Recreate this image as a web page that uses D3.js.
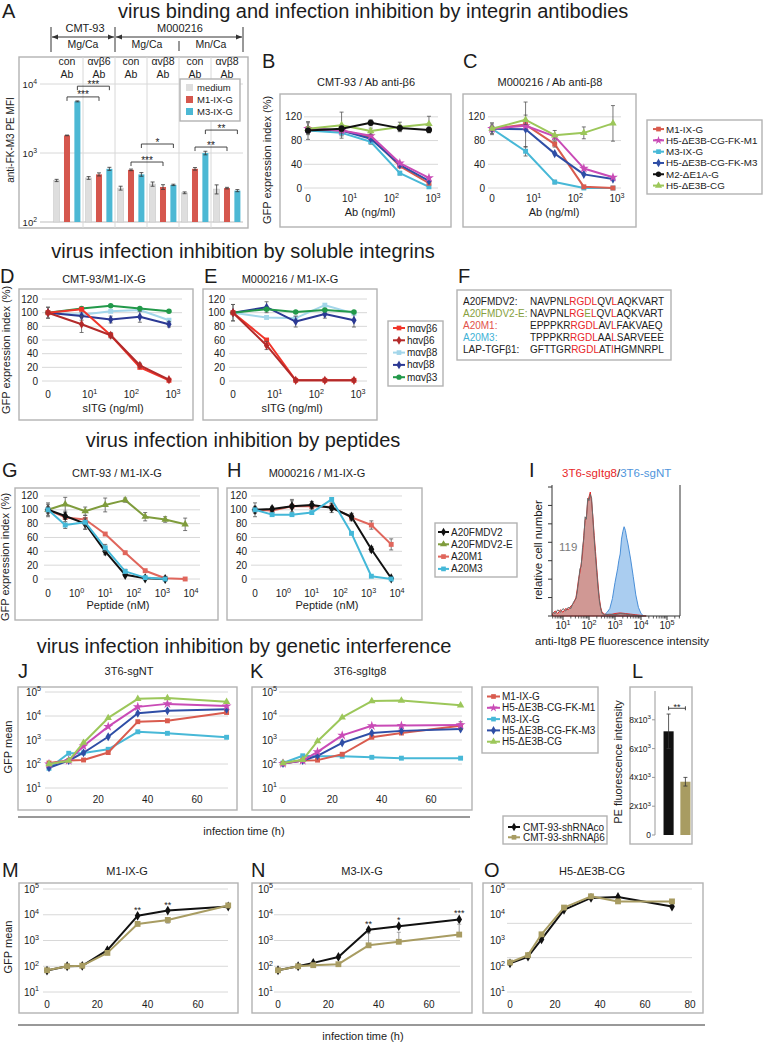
<!DOCTYPE html>
<html>
<head>
<meta charset="utf-8">
<script src="https://cdn.jsdelivr.net/npm/d3@7"></script>
<style>
html,body{margin:0;padding:0;background:#fff;}
svg{display:block;font-family:"Liberation Sans",Arial,Helvetica,sans-serif;}
</style>
</head>
<body>
<svg id="fig" width="763" height="1044"></svg>
<script>
// ================= DATA =================
// Panel A
const aGroups = ["CMT-93 con Ab", "CMT-93 αvβ6 Ab", "Mg/Ca con Ab", "Mg/Ca αvβ8 Ab", "Mn/Ca con Ab", "Mn/Ca αvβ8 Ab"];
const aColTop = ["con", "αvβ6", "con", "αvβ8", "con", "αvβ8"];
const aSeries = ["medium", "M1-IX-G", "M3-IX-G"];
const aMedium = [400, 435, 310, 355, 265, 300];
const aM1 = [1800, 490, 570, 322, 590, 310];
const aM3 = [5600, 590, 490, 345, 1000, 285];
const aMediumErr = [15, 20, 20, 25, 8, 45];
const aM1Err = [20, 25, 15, 25, 25, 8];
const aM3Err = [90, 30, 30, 8, 60, 10];
const aYTicks = ["10^2", "10^3", "10^4"];
const aSigPairs = [[0, 1, 2, "***"], [0, 1, 1, "***"], [2, 3, 2, "*"], [2, 3, 1, "***"], [4, 5, 2, "**"], [4, 5, 1, "**"]];
const aSigLevel = [9300, 6500, 1350, 740, 2150, 1220];

// Panels B, C
const abConc = [0, 6.4, 32, 160, 800];
const abXTicks = ["0", "10^1", "10^2", "10^3"];
const pctTicks4 = [0, 40, 80, 120];
const virusNames = ["M1-IX-G", "H5-ΔE3B-CG-FK-M1", "M3-IX-G", "H5-ΔE3B-CG-FK-M3", "M2-ΔE1A-G", "H5-ΔE3B-CG"];
const bM1 = [100, 97, 86, 37, 8];
const bFKM1 = [100, 97, 88, 42, 17];
const bM3 = [97, 93, 78, 25, 2];
const bFKM3 = [100, 97, 83, 39, 12];
const bM2 = [97, 100, 110, 101, 98];
const bH5 = [100, 106, 96, 103, 108];
const bM2Err = [15, 5, 5, 5, 5];
const bH5Err = [10, 22, 5, 8, 13];
const bM3Err = [5, 5, 4, 3, 2];
const cM1 = [100, 107, 74, 2, 0];
const cFKM1 = [100, 105, 87, 33, 18];
const cM3 = [100, 62, 10, 0, 0];
const cFKM3 = [100, 99, 58, 23, 15];
const cH5 = [100, 115, 89, 93, 109];
const cM1Err = [8, 38, 5, 2, 0];
const cH5Err = [10, 8, 8, 10, 30];
const cM3Err = [5, 8, 3, 0, 0];

// Panels D, E
const sitgConc = [0, 6.4, 32, 160, 800];
const pctTicks6 = [0, 20, 40, 60, 80, 100, 120];
const sitgNames = ["mαvβ6", "hαvβ6", "mαvβ8", "hαvβ8", "mαvβ3"];
const dMB6 = [100, 105, 67, 20, 1];
const dHB6 = [100, 83, 67, 23, 2];
const dMB8 = [100, 97, 102, 104, 89];
const dHB8 = [100, 95, 90, 94, 83];
const dMB3 = [100, 106, 110, 106, 102];
const dHB6Err = [8, 12, 4, 3, 1];
const dHB8Err = [8, 6, 5, 8, 4];
const eMB6 = [100, 60, 1, 1, 1];
const eHB6 = [100, 52, 1, 1, 1];
const eMB8 = [100, 93, 92, 111, 99];
const eHB8 = [100, 108, 87, 98, 89];
const eMB3 = [100, 105, 101, 104, 101];
const eHB6Err = [12, 6, 1, 1, 1];
const eHB8Err = [12, 8, 8, 6, 10];

// Panel F
const fNames = ["A20FMDV2:", "A20FMDV2-E:", "A20M1:", "A20M3:", "LAP-TGFβ1:"];
const fSeqs = ["NAVPNLRGDLQVLAQKVART", "NAVPNLRGELQVLAQKVART", "EPPPKRRGDLAVLFAKVAEQ", "TPPPKRRGDLAALSARVEEE", "GFTTGRRGDLATIHGMNRPL"];
const fRedPos = [6, 7, 8, 9, 12];

// Panels G, H
const pepConc = [0, 0.4, 2, 10, 50, 250, 1250, 6250];
const pepXTicks = ["0", "10^0", "10^1", "10^2", "10^3", "10^4"];
const pepNames = ["A20FMDV2", "A20FMDV2-E", "A20M1", "A20M3"];
const gFMDV2 = [100, 91, 80, 40, 6, 1, 0, null];
const gFMDV2E = [100, 108, 98, 107, 114, 90, 86, 79];
const gM1 = [100, 89, 86, 65, 38, 12, 1, 0];
const gM3 = [100, 78, 82, 45, 11, 2, 0, null];
const gFMDV2Err = [10, 5, 8, 5, 2, 1, 0, 0];
const gFMDV2EErr = [8, 10, 6, 10, 3, 6, 4, 9];
const gM3Err = [5, 5, 10, 5, 3, 1, 0, 0];
const hFMDV2 = [100, 101, 105, 107, 103, 90, 43, 1];
const hM1 = [100, 99, 105, 105, 104, 89, 78, 50];
const hM3 = [100, 93, 93, 96, 115, 66, 4, 0];
const hFMDV2Err = [10, 4, 8, 5, 7, 5, 4, 1];
const hM1Err = [5, 4, 10, 4, 5, 5, 6, 8];

// Panel I (histograms, log10 intensity vs relative count)
const iXTicks = ["10^1", "10^2", "10^3", "10^4", "10^5"];
const iLogItg8 = [0.6, 0.7, 0.8, 0.9, 1.0, 1.1, 1.2, 1.3, 1.4, 1.5, 1.55, 1.6, 1.65, 1.7, 1.75, 1.8, 1.85, 1.9, 1.95, 2.0, 2.05, 2.1, 2.15, 2.2, 2.25, 2.3, 2.35, 2.4, 2.45, 2.5, 2.6, 2.8, 3.0, 3.2, 3.4, 3.6, 3.8, 4.0, 4.2];
const iItg8 = [2, 4, 2, 5, 3, 6, 5, 8, 10, 15, 22, 30, 35, 42, 50, 65, 77, 80, 92, 96, 100, 92, 80, 65, 52, 38, 25, 14, 7, 3, 1.5, 1, 2, 2.5, 2, 1.5, 1, 0.5, 0];
const iItg8Rep = [3, 2, 5, 3, 6, 4, 7, 6, 11, 14, 20, 28, 38, 40, 55, 62, 80, 78, 95, 93, 98, 95, 78, 62, 48, 35, 22, 12, 6, 2, 1, 1.5, 1, 2, 1.5, 1, 0.5, 0, 0];
const iLogNT = [2.5, 2.6, 2.7, 2.8, 2.9, 3.0, 3.1, 3.15, 3.2, 3.25, 3.3, 3.35, 3.4, 3.45, 3.5, 3.6, 3.7, 3.8, 3.9, 4.0, 4.1];
const iNT = [0, 1, 3, 6, 14, 27, 38, 45, 50, 62, 68, 72, 69, 63, 58, 46, 32, 17, 7, 2, 0];

// Panels J, K
const timeH = [0, 8, 14, 24, 36, 48, 72];
const timeTicks = [0, 20, 40, 60];
const logTicks = ["10^1", "10^2", "10^3", "10^4", "10^5"];
const jkNames = ["M1-IX-G", "H5-ΔE3B-CG-FK-M1", "M3-IX-G", "H5-ΔE3B-CG-FK-M3", "H5-ΔE3B-CG"];
const jM1 = [110, 140, 147, 300, 5800, 6300, 14000];
const jFKM1 = [100, 140, 560, 3600, 24000, 32000, 26000];
const jM3 = [66, 280, 290, 410, 2200, 1900, 1300];
const jFKM3 = [70, 140, 295, 1370, 13000, 16600, 19000];
const jH5 = [100, 137, 770, 8300, 52000, 56000, 39000];
const kM1 = [105, 140, 145, 255, 1300, 1950, 3900];
const kFKM1 = [105, 140, 320, 1560, 3900, 4000, 4250];
const kM3 = [110, 220, 210, 210, 190, 175, 175];
const kFKM3 = [105, 140, 220, 760, 1950, 2400, 2900];
const kH5 = [110, 150, 890, 8700, 42000, 44000, 28000];
const kFKM1Err = [0, 0, 0, 0, 0, 0, 1500];

// Panel L
const lLabels = ["CMT-93-shRNAco", "CMT-93-shRNAβ6"];
const lVals = [7200, 3700];
const lErr = [1200, 300];
const lTicks = ["0", "2x10^3", "4x10^3", "6x10^3", "8x10^3"];

// Panels M, N, O
const oTimeTicks = [0, 20, 40, 60, 80];
const mCo = [68, 100, 103, 420, 9100, 14500, 21000];
const mB6 = [70, 100, 105, 330, 4400, 6300, 23000];
const mB6Err = [0, 0, 0, 0, 0, 1500, 0];
const mStars = [null, null, null, null, "**", "**", null];
const nCo = [70, 100, 135, 230, 2600, 3600, 6600];
const nB6 = [70, 100, 110, 120, 650, 890, 1700];
const nB6Err = [0, 0, 0, 0, 1300, 1200, 2600];
const nStars = [null, null, null, null, "**", "*", "***"];
const oCo = [130, 235, 1100, 15500, 45000, 49000, 21000];
const oB6 = [140, 270, 1740, 19000, 52000, 33000, 33000];

// ================= STYLES =================
const vStyle = {
  "M1-IX-G": { c: "#d95b4e", m: "square" },
  "H5-ΔE3B-CG-FK-M1": { c: "#c94bb6", m: "star" },
  "M3-IX-G": { c: "#47b8d7", m: "square" },
  "H5-ΔE3B-CG-FK-M3": { c: "#2f4ea6", m: "diamond" },
  "M2-ΔE1A-G": { c: "#111111", m: "circle" },
  "H5-ΔE3B-CG": { c: "#9cc75a", m: "triangle" }
};
const sStyle = {
  "mαvβ6": { c: "#f0352a", m: "square" },
  "hαvβ6": { c: "#b32a2a", m: "diamond" },
  "mαvβ8": { c: "#a3d6ea", m: "square" },
  "hαvβ8": { c: "#2b3994", m: "diamond" },
  "mαvβ3": { c: "#22994a", m: "circle" }
};
const pStyle = {
  "A20FMDV2": { c: "#111111", m: "diamond" },
  "A20FMDV2-E": { c: "#7f9c3c", m: "triangle" },
  "A20M1": { c: "#e0665c", m: "square" },
  "A20M3": { c: "#44b8d8", m: "square" }
};
const shStyle = {
  "CMT-93-shRNAco": { c: "#111111", m: "diamond" },
  "CMT-93-shRNAβ6": { c: "#a89c62", m: "square" }
};
const fNameColors = ["#1c1c1c", "#86a03c", "#e2524a", "#3fb2d6", "#1c1c1c"];

// ================= HELPERS =================
const svg = d3.select("#fig");
const FR = "#b3b3b3", GR = "#d8d8d8", TC = "#1c1c1c";

function T(x, y, s, o = {}) {
  const t = svg.append("text").attr("x", x).attr("y", y)
    .attr("font-size", o.size || 10).attr("fill", o.fill || TC)
    .attr("text-anchor", o.anchor || "start");
  if (o.rot) t.attr("transform", `rotate(-90,${x},${y})`);
  if (s != null) t.text(s);
  return t;
}
function P(x, y, s, o = {}) {
  const sz = o.size || 10;
  const t = T(x, y, null, o);
  const parts = String(s).split("^");
  t.append("tspan").text(parts[0]);
  if (parts.length > 1) t.append("tspan").attr("dy", -sz * 0.42).attr("font-size", sz * 0.72).text(parts[1]);
  return t;
}
function tv(s, zero) {
  if (s === "0") return zero;
  const p = s.split("^");
  const m = p[0].match(/^(\d+)x10$/);
  return (m ? +m[1] : 1) * Math.pow(10, +p[1]);
}
function L(x0, y0, x1, y1, c, w) {
  return svg.append("line").attr("x1", x0).attr("y1", y0).attr("x2", x1).attr("y2", y1)
    .attr("stroke", c || "#333").attr("stroke-width", w || 1);
}
function frame(x0, y0, x1, y1, fill) {
  svg.append("rect").attr("x", x0).attr("y", y0).attr("width", x1 - x0).attr("height", y1 - y0)
    .attr("fill", fill || "none").attr("stroke", FR).attr("stroke-width", 1.4);
}
const SYM = { square: d3.symbolSquare, diamond: d3.symbolDiamond, circle: d3.symbolCircle, triangle: d3.symbolTriangle, star: d3.symbolStar };
function sym(x, y, type, c, size) {
  svg.append("path").attr("d", d3.symbol().type(SYM[type]).size(size || 24)())
    .attr("transform", `translate(${x},${y})`).attr("fill", c);
}
function errBar(x, y0, y1, c, noLowCap) {
  c = c || "#555";
  L(x, y0, x, y1, c, 0.8); L(x - 2, y0, x + 2, y0, c, 0.8);
  if (!noLowCap) L(x - 2, y1, x + 2, y1, c, 0.8);
}
function series(xs, ys, xv, zero, vals, errs, st, msize) {
  const lo = ys.domain()[0];
  const isLog = typeof ys.base === "function";
  const pts = [];
  vals.forEach((v, i) => {
    if (v == null) return;
    pts.push({ x: xs(xv[i] === 0 ? zero : xv[i]), y: ys(Math.max(v, lo)), v: v, e: errs ? errs[i] : 0 });
  });
  svg.append("path").attr("d", d3.line().x(d => d.x).y(d => d.y)(pts))
    .attr("fill", "none").attr("stroke", st.c).attr("stroke-width", 2).attr("stroke-linejoin", "round");
  pts.forEach(p => {
    if (!p.e) return;
    if (isLog && p.v - p.e <= lo) errBar(p.x, ys(p.v + p.e), p.y, "#888", true);
    else errBar(p.x, ys(p.v + p.e), ys(Math.max(p.v - p.e, lo)));
  });
  pts.forEach(p => sym(p.x, p.y, st.m, st.c, msize || 24));
  return pts;
}
function grid(ys, vals, x0, x1) { vals.forEach(v => L(x0, ys(v), x1, ys(v), GR, 1)); }
function legend(x0, y0, x1, y1, names, styles, lx0, lx1, tx, base, step, size) {
  frame(x0, y0, x1, y1, "#fff");
  names.forEach((n, i) => {
    const by = base + i * step, my = by - size * 0.35;
    const st = styles[n];
    L(lx0, my, lx1, my, st.c, 2);
    sym((lx0 + lx1) / 2, my, st.m, st.c, 22);
    T(tx, by, n, { size: size });
  });
}
function tri(x, y, dir) {
  const d = dir < 0 ? `M${x},${y}L${x + 6},${y - 2.6}L${x + 6},${y + 2.6}Z` : `M${x},${y}L${x - 6},${y - 2.6}L${x - 6},${y + 2.6}Z`;
  svg.append("path").attr("d", d).attr("fill", "#333");
}

// ================= TITLES =================
T(118, 18, "virus binding and infection inhibition by integrin antibodies", { size: 20 });
T(243, 258, "virus infection inhibition by soluble integrins", { size: 20, anchor: "middle" });
T(243, 447, "virus infection inhibition by peptides", { size: 20, anchor: "middle" });
T(244, 653, "virus infection inhibition by genetic interference", { size: 20, anchor: "middle" });

// ================= PANEL A =================
T(2, 18, "A", { size: 20 });
frame(19, 57, 248, 228);
const aX = d3.scaleBand().domain(aGroups).range([51, 243]);
const aIn = d3.scaleBand().domain(aSeries).range([0, aX.bandwidth()]).paddingInner(0.42).paddingOuter(0.25);
const aY = d3.scaleLog().domain([100, 10000]).range([222, 84]);
[1000, 10000].forEach(v => L(40, aY(v), 243, aY(v), GR, 1));
L(40, aY(100), 243, aY(100), "#bdbdbd", 1);
aGroups.slice(1).forEach(g => L(aX(g), 57, aX(g), 228, GR, 1));
aYTicks.forEach(s => P(37, aY(tv(s)) + 3.5, s, { size: 9.5, anchor: "end" }));
T(14, 140, "anti-FK-M3 PE MFI", { size: 10, rot: true, anchor: "middle" });
const aVals = [aMedium, aM1, aM3], aErrs = [aMediumErr, aM1Err, aM3Err];
const aCols = ["#dedede", "#d5574e", "#4cb8d4"];
aSeries.forEach((s, si) => aGroups.forEach((g, gi) => {
  const x = aX(g) + aIn(s), w = aIn.bandwidth(), v = aVals[si][gi], e = aErrs[si][gi];
  svg.append("rect").attr("x", x).attr("y", aY(v)).attr("width", w).attr("height", aY(100) - aY(v))
    .attr("fill", aCols[si]).attr("stroke", si === 0 ? "#c8c8c8" : "none").attr("stroke-width", 0.6);
  errBar(x + w / 2, aY(v + e), aY(v - e), "#333");
}));
// column headers
aGroups.forEach((g, gi) => {
  const cx = aX(g) + aX.bandwidth() / 2;
  T(cx, 65, aColTop[gi], { size: 10.5, anchor: "middle" });
  T(cx, 78, "Ab", { size: 10.5, anchor: "middle" });
});
// top header
const hx0 = aX(aGroups[0]), hx1 = aX(aGroups[2]), hx2 = aX(aGroups[5]) + aX.bandwidth();
T(85, 32, "CMT-93", { size: 11, anchor: "middle" });
T(180, 32, "M000216", { size: 11, anchor: "middle" });
[hx0, hx1, hx2].forEach(x => L(x, 27, x, 52, "#333", 1));
L(hx0 + 1, 37, hx1 - 1, 37, "#333", 1); tri(hx0 + 1, 37, -1); tri(hx1 - 1, 37, 1);
L(hx1 + 1, 37, hx2 - 1, 37, "#333", 1); tri(hx1 + 1, 37, -1); tri(hx2 - 1, 37, 1);
T((hx0 + hx1) / 2, 48, "Mg/Ca", { size: 10.5, anchor: "middle" });
T((aX(aGroups[2]) + aX(aGroups[4])) / 2, 48, "Mg/Ca", { size: 10.5, anchor: "middle" });
T((aX(aGroups[4]) + hx2) / 2, 48, "Mn/Ca", { size: 10.5, anchor: "middle" });
L(aX(aGroups[4]), 41, aX(aGroups[4]), 51, "#333", 1);
// significance
aSigPairs.forEach((p, i) => {
  const bc = (gi, si) => aX(aGroups[gi]) + aIn(aSeries[si]) + aIn.bandwidth() / 2;
  const x1 = bc(p[0], p[2]), x2 = bc(p[1], p[2]), y = aY(aSigLevel[i]);
  L(x1, y, x2, y, "#333", 0.9); L(x1, y, x1, y + 4, "#333", 0.9); L(x2, y, x2, y + 4, "#333", 0.9);
  T((x1 + x2) / 2, y + 1.5, p[3], { size: 10, anchor: "middle" });
});
// legend A
frame(180, 79, 240, 121, "#fff");
aSeries.forEach((s, si) => {
  const by = 91 + si * 12;
  svg.append("rect").attr("x", 186).attr("y", by - 7).attr("width", 7).attr("height", 7).attr("fill", aCols[si]);
  T(197, by, s, { size: 9.5 });
});

// ================= PANEL B =================
T(262, 68, "B", { size: 20 });
T(366, 86, "CMT-93 / Ab anti-β6", { size: 11, anchor: "middle" });
frame(280, 94, 451, 227);
const bX = d3.scaleLog().domain([1, 1000]).range([308, 433]);
const bY = d3.scaleLinear().domain([0, 140]).range([188, 105]);
grid(bY, pctTicks4, 304, 438);
pctTicks4.forEach(v => T(302, bY(v) + 3.5, v, { size: 10, anchor: "end" }));
abXTicks.forEach(s => P(bX(tv(s, 1)), 202, s, { size: 10, anchor: "middle" }));
T(370, 216, "Ab (ng/ml)", { size: 11, anchor: "middle" });
T(271, 160, "GFP expression index (%)", { size: 11, rot: true, anchor: "middle" });
series(bX, bY, abConc, 1, bM3, bM3Err, vStyle["M3-IX-G"]);
series(bX, bY, abConc, 1, bM1, null, vStyle["M1-IX-G"]);
series(bX, bY, abConc, 1, bFKM3, null, vStyle["H5-ΔE3B-CG-FK-M3"]);
series(bX, bY, abConc, 1, bFKM1, null, vStyle["H5-ΔE3B-CG-FK-M1"], 30);
series(bX, bY, abConc, 1, bH5, bH5Err, vStyle["H5-ΔE3B-CG"]);
series(bX, bY, abConc, 1, bM2, bM2Err, vStyle["M2-ΔE1A-G"], 30);

// ================= PANEL C =================
T(463, 68, "C", { size: 20 });
T(550, 86, "M000216 / Ab anti-β8", { size: 11, anchor: "middle" });
frame(463, 94, 636, 227);
const cX = d3.scaleLog().domain([1, 1000]).range([492, 617]);
const cY = bY;
grid(cY, pctTicks4, 488, 621);
pctTicks4.forEach(v => T(485, cY(v) + 3.5, v, { size: 10, anchor: "end" }));
abXTicks.forEach(s => P(cX(tv(s, 1)), 202, s, { size: 10, anchor: "middle" }));
T(554, 216, "Ab (ng/ml)", { size: 11, anchor: "middle" });
series(cX, cY, abConc, 1, cM3, cM3Err, vStyle["M3-IX-G"]);
series(cX, cY, abConc, 1, cM1, cM1Err, vStyle["M1-IX-G"]);
series(cX, cY, abConc, 1, cFKM3, null, vStyle["H5-ΔE3B-CG-FK-M3"]);
series(cX, cY, abConc, 1, cFKM1, null, vStyle["H5-ΔE3B-CG-FK-M1"], 30);
series(cX, cY, abConc, 1, cH5, cH5Err, vStyle["H5-ΔE3B-CG"]);
legend(647, 120, 762, 194, virusNames, vStyle, 653, 664, 666, 132.5, 11.3, 9.8);

// ================= PANEL D =================
T(0, 283, "D", { size: 20 });
T(104, 283, "CMT-93/M1-IX-G", { size: 11, anchor: "middle" });
frame(19, 289, 193, 420);
const dX = d3.scaleLog().domain([1, 1000]).range([48, 173]);
const pY = d3.scaleLinear().domain([0, 125]).range([381, 295.6]);
grid(pY, pctTicks6, 42, 182);
pctTicks6.forEach(v => T(38, pY(v) + 3.5, v, { size: 10, anchor: "end" }));
abXTicks.forEach(s => P(dX(tv(s, 1)), 398, s, { size: 10, anchor: "middle" }));
T(113, 412, "sITG (ng/ml)", { size: 11, anchor: "middle" });
T(10, 350, "GFP expression index (%)", { size: 11, rot: true, anchor: "middle" });
series(dX, pY, sitgConc, 1, dMB8, null, sStyle["mαvβ8"]);
series(dX, pY, sitgConc, 1, dHB8, dHB8Err, sStyle["hαvβ8"]);
series(dX, pY, sitgConc, 1, dMB3, null, sStyle["mαvβ3"]);
series(dX, pY, sitgConc, 1, dMB6, null, sStyle["mαvβ6"]);
series(dX, pY, sitgConc, 1, dHB6, dHB6Err, sStyle["hαvβ6"]);

// ================= PANEL E =================
T(204, 283, "E", { size: 20 });
T(290, 283, "M000216 / M1-IX-G", { size: 11, anchor: "middle" });
frame(203, 289, 377, 420);
const eX = d3.scaleLog().domain([1, 1000]).range([233, 358]);
grid(pY, pctTicks6, 229, 367);
pctTicks6.forEach(v => T(225, pY(v) + 3.5, v, { size: 10, anchor: "end" }));
abXTicks.forEach(s => P(eX(tv(s, 1)), 398, s, { size: 10, anchor: "middle" }));
T(292, 412, "sITG (ng/ml)", { size: 11, anchor: "middle" });
series(eX, pY, sitgConc, 1, eMB8, null, sStyle["mαvβ8"]);
series(eX, pY, sitgConc, 1, eHB8, eHB8Err, sStyle["hαvβ8"]);
series(eX, pY, sitgConc, 1, eMB3, null, sStyle["mαvβ3"]);
series(eX, pY, sitgConc, 1, eMB6, null, sStyle["mαvβ6"]);
series(eX, pY, sitgConc, 1, eHB6, eHB6Err, sStyle["hαvβ6"]);
legend(388, 321, 443, 386, sitgNames, sStyle, 393, 405, 407, 331.5, 12.3, 10);

// ================= PANEL F =================
T(458, 283, "F", { size: 20 });
frame(457, 290, 671, 360, "#fff");
fNames.forEach((n, i) => {
  const y = 304.5 + i * 12;
  T(463, y, n, { size: 10, fill: fNameColors[i] });
  const t = T(530, y, null, { size: 10 });
  Array.from(fSeqs[i]).forEach((ch, j) => {
    let c = TC;
    if (fRedPos.includes(j)) c = (i === 1 && j === 8) ? fNameColors[1] : "#e8262a";
    t.append("tspan").attr("fill", c).text(ch);
  });
});

// ================= PANEL G =================
T(2, 477, "G", { size: 20 });
T(117, 477, "CMT-93 / M1-IX-G", { size: 11, anchor: "middle" });
frame(15, 488, 218, 620);
const gX = d3.scaleLog().domain([0.1, 10000]).range([48, 191]);
const gY = d3.scaleLinear().domain([0, 125]).range([579, 492.5]);
grid(gY, pctTicks6, 44, 200);
pctTicks6.forEach(v => T(38, gY(v) + 3.5, v, { size: 10, anchor: "end" }));
pepXTicks.forEach(s => P(gX(tv(s, 0.1)), 597, s, { size: 10, anchor: "middle" }));
T(118, 609, "Peptide (nM)", { size: 11, anchor: "middle" });
T(9, 557, "GFP expression index (%)", { size: 11, rot: true, anchor: "middle" });
series(gX, gY, pepConc, 0.1, gFMDV2E, gFMDV2EErr, pStyle["A20FMDV2-E"]);
series(gX, gY, pepConc, 0.1, gM1, null, pStyle["A20M1"]);
series(gX, gY, pepConc, 0.1, gFMDV2, gFMDV2Err, pStyle["A20FMDV2"], 30);
series(gX, gY, pepConc, 0.1, gM3, gM3Err, pStyle["A20M3"]);

// ================= PANEL H =================
T(227, 477, "H", { size: 20 });
T(317, 477, "M000216 / M1-IX-G", { size: 11, anchor: "middle" });
frame(227, 488, 422, 620);
const hX = d3.scaleLog().domain([0.1, 10000]).range([255, 397]);
grid(gY, pctTicks6, 251, 402);
pctTicks6.forEach(v => T(247, gY(v) + 3.5, v, { size: 10, anchor: "end" }));
pepXTicks.forEach(s => P(hX(tv(s, 0.1)), 597, s, { size: 10, anchor: "middle" }));
T(327, 609, "Peptide (nM)", { size: 11, anchor: "middle" });
series(hX, gY, pepConc, 0.1, hM1, hM1Err, pStyle["A20M1"]);
series(hX, gY, pepConc, 0.1, hFMDV2, hFMDV2Err, pStyle["A20FMDV2"], 30);
series(hX, gY, pepConc, 0.1, hM3, null, pStyle["A20M3"]);
legend(435, 523, 517, 577, pepNames, pStyle, 438, 449, 451, 535.5, 12.3, 10);

// ================= PANEL I =================
T(529, 477, "I", { size: 20 });
const it = T(562, 477, null, { size: 11.5 });
it.append("tspan").attr("fill", "#e8272a").text("3T6-sgItg8");
it.append("tspan").attr("fill", TC).text("/");
it.append("tspan").attr("fill", "#4f95dc").text("3T6-sgNT");
const iX = d3.scaleLog().domain([10, 100000]).range([563, 667]);
const iY = d3.scaleLinear().domain([0, 100]).range([616, 492]);
const iArea = d3.area().x(d => iX(Math.pow(10, d[0]))).y0(616).y1(d => iY(d[1]));
const iLine = d3.line().x(d => iX(Math.pow(10, d[0]))).y(d => iY(d[1]));
const ntD = iLogNT.map((x, i) => [x, iNT[i]]);
const itD = iLogItg8.map((x, i) => [x, iItg8[i]]);
const repD = iLogItg8.map((x, i) => [x, iItg8Rep[i]]);
svg.append("path").attr("d", iArea(ntD)).attr("fill", "#aacdf0").attr("stroke", "#4a8fd8").attr("stroke-width", 1);
svg.append("path").attr("d", iArea(itD)).attr("fill", "rgba(192,118,112,0.75)").attr("stroke", "#e32b2b").attr("stroke-width", 1);
svg.append("path").attr("d", iLine(repD)).attr("fill", "none").attr("stroke", "#6a6a6a").attr("stroke-width", 1);
L(552, 485, 552, 616, "#333", 1); L(552, 616, 680, 616, "#333", 1); L(680, 485, 680, 616, "#333", 1);
d3.range(8).forEach(i => { const y = 616 - i * (129 / 7); L(548, y, 552, y, "#333", 1); });
iXTicks.forEach(s => { const x = iX(tv(s)); L(x, 616, x, 620, "#333", 1); P(x, 629, s, { size: 10, anchor: "middle" }); });
[1, 10, 100, 1000, 10000, 100000].forEach(dec => d3.range(2, 10).forEach(m => {
  const x = iX(m * dec);
  if (x > 552 && x < 680) L(x, 616, x, 618.5, "#333", 0.8);
}));
T(542, 550, "relative cell number", { size: 11.5, rot: true, anchor: "middle" });
T(559, 551, "119", { size: 11.5, fill: "#7a7a7a" });
T(622, 645, "anti-Itg8 PE fluorescence intensity", { size: 11.5, anchor: "middle" });

// ================= PANEL J =================
T(18, 678, "J", { size: 20 });
T(129, 675, "3T6-sgNT", { size: 11, anchor: "middle" });
frame(18, 687, 237, 810);
const jX = d3.scaleLinear().domain([0, 60]).range([49, 197]);
const jY = d3.scaleLog().domain([10, 100000]).range([788, 692]);
grid(jY, logTicks.map(s => tv(s)), 45, 228);
logTicks.forEach(s => P(41, jY(tv(s)) + 3.5, s, { size: 10, anchor: "end" }));
timeTicks.forEach(v => T(jX(v), 803, v, { size: 10, anchor: "middle" }));
T(12, 747, "GFP mean", { size: 11, rot: true, anchor: "middle" });
series(jX, jY, timeH, 0, jM3, null, vStyle["M3-IX-G"]);
series(jX, jY, timeH, 0, jM1, null, vStyle["M1-IX-G"]);
series(jX, jY, timeH, 0, jFKM3, null, vStyle["H5-ΔE3B-CG-FK-M3"]);
series(jX, jY, timeH, 0, jFKM1, null, vStyle["H5-ΔE3B-CG-FK-M1"], 30);
series(jX, jY, timeH, 0, jH5, null, vStyle["H5-ΔE3B-CG"]);

// ================= PANEL K =================
T(250, 678, "K", { size: 20 });
T(360, 675, "3T6-sgItg8", { size: 11, anchor: "middle" });
frame(252, 687, 472, 810);
const kX = d3.scaleLinear().domain([0, 60]).range([283, 431]);
grid(jY, logTicks.map(s => tv(s)), 279, 462);
logTicks.forEach(s => P(277, jY(tv(s)) + 3.5, s, { size: 10, anchor: "end" }));
timeTicks.forEach(v => T(kX(v), 803, v, { size: 10, anchor: "middle" }));
series(kX, jY, timeH, 0, kM3, null, vStyle["M3-IX-G"]);
series(kX, jY, timeH, 0, kM1, null, vStyle["M1-IX-G"]);
series(kX, jY, timeH, 0, kFKM3, null, vStyle["H5-ΔE3B-CG-FK-M3"]);
series(kX, jY, timeH, 0, kFKM1, kFKM1Err, vStyle["H5-ΔE3B-CG-FK-M1"], 30);
series(kX, jY, timeH, 0, kH5, null, vStyle["H5-ΔE3B-CG"]);
legend(482, 687, 598, 753, jkNames, vStyle, 487, 500, 502, 700, 11.3, 10);
L(18, 817, 470, 817, "#333", 1);
T(244, 835, "infection time (h)", { size: 11, anchor: "middle" });

// ================= PANEL L =================
T(632, 678, "L", { size: 20 });
frame(630, 687, 692, 844);
const lY = d3.scaleLinear().domain([0, 10000]).range([835, 691]);
const lX = d3.scaleBand().domain(lLabels).range([661, 693]).paddingInner(0.4).paddingOuter(0.15);
L(655, 691, 655, 835, "#999", 1);
lTicks.forEach(s => { const y = lY(tv(s, 0)); L(652, y, 655, y, "#999", 1); P(651, y + 3, s, { size: 8.5, anchor: "end" }); });
const lCols = [shStyle["CMT-93-shRNAco"].c, shStyle["CMT-93-shRNAβ6"].c];
lLabels.forEach((lab, i) => {
  const x = lX(lab), w = lX.bandwidth();
  svg.append("rect").attr("x", x).attr("y", lY(lVals[i])).attr("width", w).attr("height", lY(0) - lY(lVals[i])).attr("fill", lCols[i]);
  errBar(x + w / 2, lY(lVals[i] + lErr[i]), lY(lVals[i] - lErr[i]), "#333");
});
{
  const x1 = lX(lLabels[0]) + lX.bandwidth() / 2, x2 = lX(lLabels[1]) + lX.bandwidth() / 2, y = lY(8800);
  L(x1, y, x2, y, "#333", 0.9); L(x1, y - 2, x1, y + 2, "#333", 0.9); L(x2, y - 2, x2, y + 2, "#333", 0.9);
  T((x1 + x2) / 2, y + 2, "**", { size: 9, anchor: "middle" });
}
T(622, 762, "PE fluorescence intensity", { size: 11, rot: true, anchor: "middle" });
legend(503, 816, 607, 844, lLabels, shStyle, 508, 520, 523, 830.5, 10.3, 10);

// ================= PANELS M, N, O =================
const mY = d3.scaleLog().domain([10, 100000]).range([992, 889]);
function timePanel(letter, lx, title, tx, x0, x1, xs, ticks, gx0, gx1, labX, co, b6, b6Err, stars, gridVals) {
  T(lx, 877, letter, { size: 20 });
  T(tx, 875, title, { size: 11, anchor: "middle" });
  frame(x0, 883, x1, 1013);
  gridVals.forEach(y => L(gx0, y, gx1, y, GR, 1));
  logTicks.forEach(s => P(labX, mY(tv(s)) + 3.5, s, { size: 10, anchor: "end" }));
  ticks.forEach(v => T(xs(v), 1008, v, { size: 10, anchor: "middle" }));
  const coPts = series(xs, mY, timeH, 0, co, null, shStyle["CMT-93-shRNAco"], 28);
  series(xs, mY, timeH, 0, b6, b6Err, shStyle["CMT-93-shRNAβ6"], 34);
  if (stars) stars.forEach((s, i) => { if (s) T(coPts[i].x, coPts[i].y - 3, s, { size: 9, anchor: "middle" }); });
}
const mGrid = logTicks.map(s => mY(tv(s)));
const mX = d3.scaleLinear().domain([0, 60]).range([47, 198]);
timePanel("M", 2, "M1-IX-G", 127, 19, 238, mX, timeTicks, 43, 228, 39, mCo, mB6, mB6Err, mStars, mGrid);
T(12, 947, "GFP mean", { size: 11, rot: true, anchor: "middle" });
const nX = d3.scaleLinear().domain([0, 60]).range([278, 429]);
timePanel("N", 251, "M3-IX-G", 362, 252, 472, nX, timeTicks, 274, 460, 273, nCo, nB6, nB6Err, nStars, mGrid);
const oX = d3.scaleLinear().domain([0, 80]).range([510, 690]);
const oGrid = d3.range(4).map(i => 889 + i * (103 / 3));
timePanel("O", 484, "H5-ΔE3B-CG", 592, 483, 703, oX, oTimeTicks, 507, 692, 505, oCo, oB6, null, null, oGrid);
L(18, 1025, 705, 1025, "#333", 1);
T(363, 1040, "infection time (h)", { size: 11, anchor: "middle" });
</script>
</body>
</html>
